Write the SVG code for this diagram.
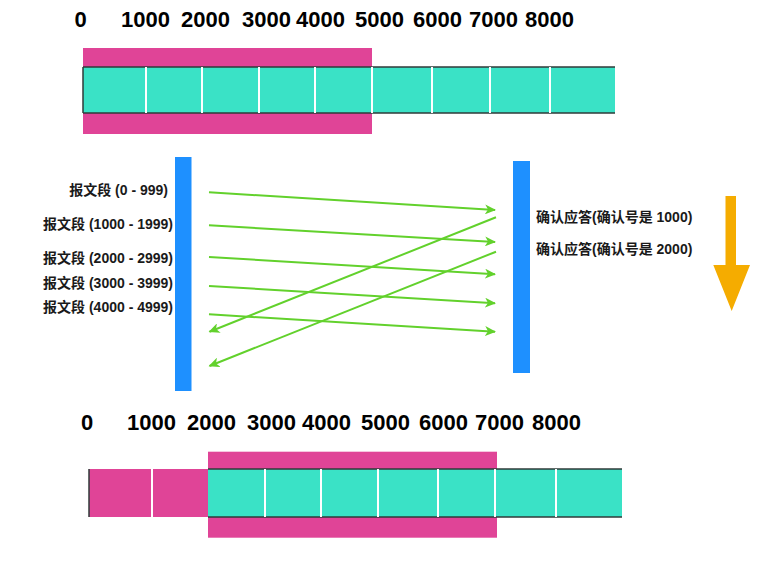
<svg xmlns="http://www.w3.org/2000/svg" width="771" height="562" viewBox="0 0 771 562">
<defs>
<style>
.num{font-family:"Liberation Sans",Arial,sans-serif;font-weight:bold;font-size:22px;fill:#000}
.lbl{font-family:"Liberation Sans","Noto Sans CJK SC",sans-serif;font-weight:bold;font-size:14px;fill:#1a1a1a}
.teal{fill:#3AE2C6}
.pink{fill:#E04497}
.edge{stroke:#2f3a38;stroke-width:1.5}
.div{stroke:#ffffff;stroke-width:2}
.bar{fill:#1E90FF}
.msg{stroke:#62D12C;stroke-width:2;fill:none;marker-end:url(#ah)}
</style>
<marker id="ah" markerWidth="12" markerHeight="10" refX="10" refY="5" orient="auto" markerUnits="userSpaceOnUse">
<path d="M0,0 L11,5 L0,10 L3,5 Z" fill="#62D12C"/>
</marker>
</defs>

<g id="top-scale">
<text class="num" x="74.5" y="27">0</text>
<text class="num" x="121" y="27">1000</text>
<text class="num" x="181" y="27">2000</text>
<text class="num" x="242" y="27">3000</text>
<text class="num" x="296" y="27">4000</text>
<text class="num" x="355" y="27">5000</text>
<text class="num" x="413" y="27">6000</text>
<text class="num" x="469" y="27">7000</text>
<text class="num" x="525" y="27">8000</text>
</g>

<g id="top-buffer">
<rect class="pink" x="83" y="48" width="289" height="19"/>
<rect class="pink" x="83" y="113" width="289" height="21"/>
<rect class="teal" x="83" y="67" width="532" height="46"/>
<line class="edge" x1="83" y1="67" x2="615" y2="67"/>
<line class="edge" x1="83" y1="113" x2="615" y2="113"/>
<line class="edge" x1="83" y1="67" x2="83" y2="113"/>
<line class="div" x1="146" y1="67" x2="146" y2="113"/>
<line class="div" x1="202" y1="67" x2="202" y2="113"/>
<line class="div" x1="259" y1="67" x2="259" y2="113"/>
<line class="div" x1="315" y1="67" x2="315" y2="113"/>
<line class="div" x1="372" y1="67" x2="372" y2="113"/>
<line class="div" x1="432" y1="67" x2="432" y2="113"/>
<line class="div" x1="490" y1="67" x2="490" y2="113"/>
<line class="div" x1="550" y1="67" x2="550" y2="113"/>
</g>

<g id="sender">
<rect class="bar" x="175" y="157" width="16.5" height="234"/>
<text class="lbl" x="168" y="195" text-anchor="end">报文段 (0 - 999)</text>
<text class="lbl" x="173" y="229" text-anchor="end">报文段 (1000 - 1999)</text>
<text class="lbl" x="173" y="263" text-anchor="end">报文段 (2000 - 2999)</text>
<text class="lbl" x="173" y="288" text-anchor="end">报文段 (3000 - 3999)</text>
<text class="lbl" x="173" y="312" text-anchor="end">报文段 (4000 - 4999)</text>
</g>

<g id="receiver">
<rect class="bar" x="513" y="161" width="17" height="212"/>
<text class="lbl" x="536" y="221.5">确认应答(确认号是 1000)</text>
<text class="lbl" x="536" y="254">确认应答(确认号是 2000)</text>
</g>

<g id="connectors">
<line class="msg" x1="209" y1="192.3" x2="495" y2="210"/>
<line class="msg" x1="209" y1="225.3" x2="495" y2="242"/>
<line class="msg" x1="209" y1="257" x2="495" y2="274.3"/>
<line class="msg" x1="209" y1="286" x2="495" y2="303.3"/>
<line class="msg" x1="209" y1="314.3" x2="495" y2="331.7"/>
<line class="msg" x1="496" y1="217.3" x2="209.5" y2="331.7"/>
<line class="msg" x1="496" y1="251.7" x2="209.5" y2="366"/>
</g>

<g id="time-arrow">
<path d="M725.5,196 L736,196 L736,265 L750,265 L731.7,311 L713.3,265 L725.5,265 Z" fill="#F5AC00"/>
</g>

<g id="bottom-scale">
<text class="num" x="81" y="430">0</text>
<text class="num" x="127" y="430">1000</text>
<text class="num" x="187" y="430">2000</text>
<text class="num" x="247" y="430">3000</text>
<text class="num" x="302" y="430">4000</text>
<text class="num" x="361" y="430">5000</text>
<text class="num" x="419" y="430">6000</text>
<text class="num" x="475" y="430">7000</text>
<text class="num" x="532" y="430">8000</text>
</g>

<g id="bottom-buffer">
<rect class="pink" x="208" y="451.7" width="289" height="17.3"/>
<rect class="pink" x="208" y="517" width="289" height="20.7"/>
<rect class="pink" x="89" y="469" width="119" height="48"/>
<rect class="teal" x="208" y="469" width="414" height="48"/>
<line class="edge" x1="208" y1="469" x2="622" y2="469"/>
<line class="edge" x1="208" y1="517" x2="622" y2="517" stroke="#555"/>
<line class="edge" x1="89" y1="469" x2="89" y2="517"/>
<line class="div" x1="152" y1="469" x2="152" y2="517" stroke="#f6c6df"/>
<line class="div" x1="265" y1="469" x2="265" y2="517"/>
<line class="div" x1="321" y1="469" x2="321" y2="517"/>
<line class="div" x1="378" y1="469" x2="378" y2="517"/>
<line class="div" x1="438" y1="469" x2="438" y2="517"/>
<line class="div" x1="495" y1="469" x2="495" y2="517"/>
<line class="div" x1="556" y1="469" x2="556" y2="517"/>
</g>
</svg>
